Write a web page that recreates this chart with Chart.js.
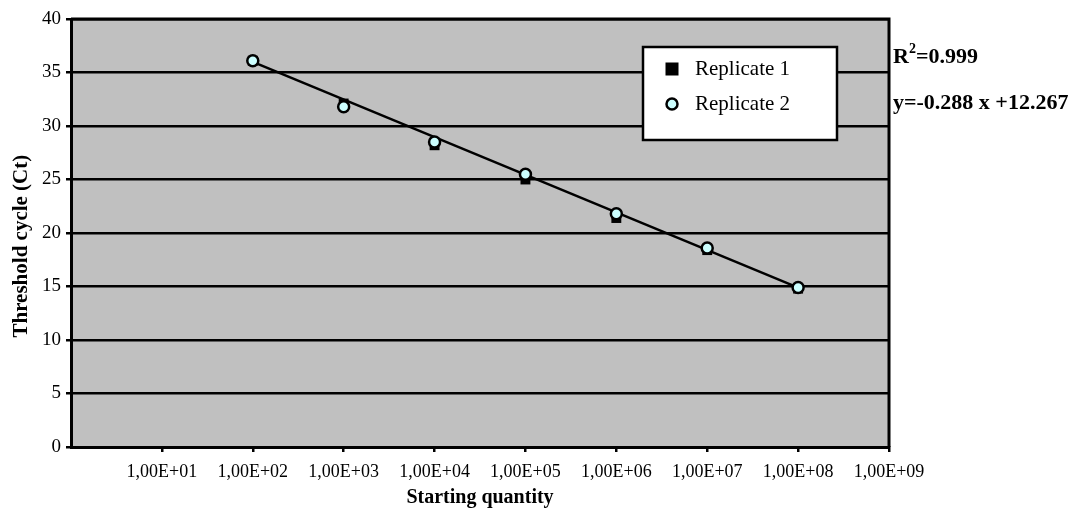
<!DOCTYPE html>
<html><head><meta charset="utf-8">
<script src="https://cdn.jsdelivr.net/npm/chart.js@4/dist/chart.umd.min.js"></script>
<style>
html,body{margin:0;padding:0;background:#fff;}
#wrap{position:relative;width:1075px;height:508px;}
.ann{position:absolute;left:893px;font:bold 22px "Liberation Serif";color:#000;white-space:nowrap;line-height:20px}
.ann sup{font-size:14px;line-height:0;position:relative;top:-2px}
</style>
</head><body>
<div id="wrap">
<canvas id="c" width="1075" height="508"></canvas>
<div class="ann" style="top:46px">R<sup>2</sup>=0.999</div>
<div class="ann" style="top:92px">y=-0.288 x +12.267</div>
</div>
<script>
// ---- data ----
const quantities   = [1e2, 1e3, 1e4, 1e5, 1e6, 1e7, 1e8];
const replicate1   = [36.1, 32.1, 28.2, 25.0, 21.4, 18.4, 14.8];
const replicate2   = [36.1, 31.8, 28.5, 25.5, 21.8, 18.6, 14.9];
const trendX       = [1e2, 1e8];
const trendY       = [36.0, 14.9];
const xTickValues  = [1e1, 1e2, 1e3, 1e4, 1e5, 1e6, 1e7, 1e8, 1e9];
const xTickLabels  = ['1,00E+01','1,00E+02','1,00E+03','1,00E+04','1,00E+05','1,00E+06','1,00E+07','1,00E+08','1,00E+09'];
const seriesNames  = ['Replicate 1', 'Replicate 2'];
const xTitle = 'Starting quantity';
const yTitle = 'Threshold cycle (Ct)';

const serif = '"Liberation Serif", "Times New Roman", serif';

const pts = (xs, ys) => xs.map((x, i) => ({x: x, y: ys[i]}));

const plotDeco = {
  id: 'plotDeco',
  beforeDraw(chart) {
    const a = chart.chartArea, ctx = chart.ctx;
    ctx.save();
    ctx.fillStyle = '#c0c0c0';
    ctx.fillRect(a.left, a.top, a.right - a.left, a.bottom - a.top);
    ctx.restore();
  },
  afterDraw(chart) {
    const a = chart.chartArea, ctx = chart.ctx;
    ctx.save();
    ctx.strokeStyle = '#000';
    ctx.lineWidth = 3;
    ctx.beginPath();
    ctx.moveTo(a.left, a.top); ctx.lineTo(a.right, a.top); ctx.lineTo(a.right, a.bottom);
    ctx.stroke();
    // legend box
    const lx = 643, ly = 47, lw = 194, lh = 93;
    ctx.fillStyle = '#fff';
    ctx.fillRect(lx, ly, lw, lh);
    ctx.lineWidth = 2.5;
    ctx.strokeRect(lx, ly, lw, lh);
    const ds = chart.data.datasets;
    ctx.fillStyle = ds[0].backgroundColor;
    ctx.fillRect(672 - 6.5, 69 - 6.5, 13, 13);
    ctx.beginPath();
    ctx.arc(672, 104, 5.5, 0, Math.PI * 2);
    ctx.fillStyle = ds[1].backgroundColor;
    ctx.fill();
    ctx.lineWidth = 2.5;
    ctx.strokeStyle = ds[1].borderColor;
    ctx.stroke();
    ctx.fillStyle = '#000';
    ctx.font = '21px ' + serif;
    ctx.textBaseline = 'middle';
    ctx.textAlign = 'left';
    ctx.fillText(ds[0].label, 695, 69);
    ctx.fillText(ds[1].label, 695, 104);
    ctx.restore();
  }
};

new Chart(document.getElementById('c'), {
  type: 'scatter',
  data: {
    datasets: [
      {label: seriesNames[0], data: pts(quantities, replicate1), pointStyle: 'rect', pointRadius: 7,
       backgroundColor: '#000', borderColor: '#000', borderWidth: 0, order: 2},
      {label: seriesNames[1], data: pts(quantities, replicate2), pointStyle: 'circle', pointRadius: 5.5,
       backgroundColor: '#ccffff', borderColor: '#000', borderWidth: 2.5, order: 1},
      {label: 'trend', data: pts(trendX, trendY), showLine: true, pointRadius: 0,
       borderColor: '#000', borderWidth: 2.5, order: 3}
    ]
  },
  options: {
    responsive: false,
    animation: false,
    events: [],
    layout: {padding: {top: 19, right: 186, left: 0, bottom: 0}},
    plugins: {legend: {display: false}, tooltip: {enabled: false}},
    scales: {
      x: {
        type: 'logarithmic', min: 1, max: 1e9,
        afterBuildTicks(scale) { scale.ticks = xTickValues.map(v => ({value: v})); },
        afterFit(scale) { scale.height = 61; },
        ticks: {
          autoSkip: false, maxRotation: 0, color: '#000', padding: 9,
          font: {family: serif, size: 18},
          callback(value, index) { return xTickLabels[index]; }
        },
        grid: {drawOnChartArea: false, drawTicks: true, tickLength: 5, color: '#000', lineWidth: 2.5},
        border: {display: true, color: '#000', width: 3},
        title: {display: true, text: xTitle, color: '#000', font: {family: serif, size: 20, weight: 'bold', lineHeight: 1.0}, padding: {top: 2, bottom: 0}}
      },
      y: {
        min: 0, max: 40,
        afterFit(scale) { scale.width = 71; },
        ticks: {stepSize: 5, color: '#000', padding: 5, font: {family: serif, size: 19}},
        grid: {color: '#000', lineWidth: 2.5, drawTicks: true, tickLength: 5},
        border: {display: true, color: '#000', width: 3},
        title: {display: true, text: yTitle + '     ', color: '#000', font: {family: serif, size: 21, weight: 'bold'}, padding: {top: 9, bottom: 0}}
      }
    }
  },
  plugins: [plotDeco]
});
</script>
</body></html>
